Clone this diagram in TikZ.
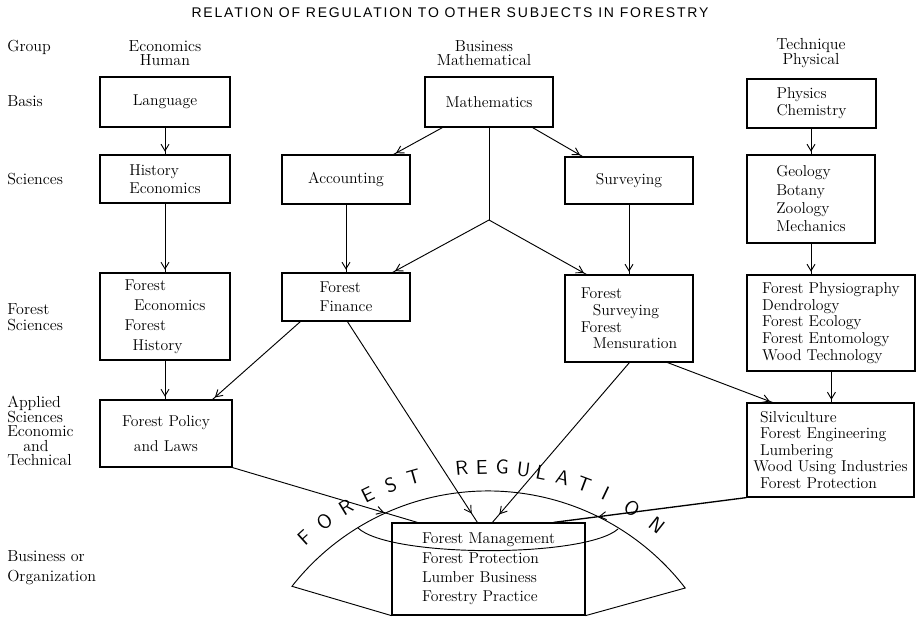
\documentclass[tikz,border=0pt]{standalone}
\usepackage{fontspec}
\newfontfamily\titlefont[LetterSpace=13]{Liberation Sans}
\usetikzlibrary{arrows.meta,decorations.markings,calc}
\begin{document}
\begin{tikzpicture}[x=0.75pt,y=-0.75pt,
  lbl/.style={font=\fontsize{12}{#1}\selectfont, align=left, anchor=west, inner sep=0pt},
  lbl/.default=13.5,
  hdr/.style={font=\fontsize{12}{10.5}\selectfont, align=center, inner sep=0pt},
  box/.style={draw, line width=0.9pt, inner sep=0pt, align=left},
  bs/.style={font=\fontsize{11.8}{#1}\selectfont},
  con/.style={line width=0.7pt},
  arr/.style={con, postaction={decorate}, decoration={markings, mark=at position #1 with {\arrow{Straight Barb[length=5pt,width=6pt,line width=0.7pt]}}}},
  arr/.default=-2pt,
  ltr/.style={font=\sffamily\fontsize{15}{15}\selectfont, inner sep=0pt}
]
\useasboundingbox (0,0) rectangle (920,617);

% title
\node[font=\titlefont\fontsize{10.5}{12}\selectfont, inner sep=0pt] (title) at (450,13) {RELATION OF REGULATION TO OTHER SUBJECTS IN FORESTRY};

% row labels
\node[lbl] (rg) at (7,47) {Group};
\node[lbl] (rb) at (7,101) {Basis};
\node[lbl] (rs) at (7,179) {Sciences};
\node[lbl=12] (rf) at (7,317) {Forest\\Sciences};
\node[lbl=10.9] (ra) at (7,431) {Applied\\Sciences\\Economic\\\hspace*{12pt}and\\Technical};
\node[lbl=15] (rbo) at (7,568) {Business or\\Organization};

% column headers
\node[hdr] (h1) at (165,53) {Economics\\Human};
\node[hdr] (h2) at (484,53) {Business\\Mathematical};
\node[hdr] (h3) at (811,53) {Technique\\Physical};

% boxes
\node[box, bs=13.5, minimum width=97.5pt, minimum height=37.5pt] (lang) at (165,102) {Language};
\node[box, bs=13.5, minimum width=96pt, minimum height=37.5pt] (math) at (489,102) {Mathematics};
\node[box, bs=12.75, minimum width=96.75pt, minimum height=36.75pt] (phys) at (811.5,103.5) {Physics\\Chemistry};
\node[box, bs=13.5, minimum width=97.5pt, minimum height=36pt] (hist) at (165,179) {History\\Economics};
\node[box, bs=13.5, minimum width=96pt, minimum height=36.75pt] (acc) at (346,179.5) {Accounting};
\node[box, bs=13.5, minimum width=96pt, minimum height=35.25pt] (surv) at (629,180.5) {Surveying};
\node[box, bs=13.75, minimum width=96pt, minimum height=66pt] (geo) at (811,199) {Geology\\Botany\\Zoology\\Mechanics};
\node[box, bs=15, minimum width=97.5pt, minimum height=65.25pt] (fecon) at (165,316.5) {Forest\\\hspace*{7pt}Economics\\Forest\\\hspace*{6pt}History};
\node[box, bs=14.25, minimum width=96pt, minimum height=36pt] (ffin) at (346,297) {Forest\\Finance};
\node[box, bs=12.5, minimum width=96pt, minimum height=65.25pt] (fsurv) at (629,318.5) {Forest\\\hspace*{9pt}Surveying\\Forest\\\hspace*{9pt}Mensuration};
\node[box, bs=12.6, minimum width=126pt, minimum height=72pt] (fphys) at (831,323) {Forest Physiography\\Dendrology\\Forest Ecology\\Forest Entomology\\Wood Technology};
\node[box, bs=18.75, align=center, minimum width=99pt, minimum height=50.25pt] (policy) at (166,433.5) {Forest Policy\\and Laws};
\node[box, bs=12.4, minimum width=125.25pt, minimum height=70.5pt] (silv) at (830.5,450) {\hspace*{5pt}Silviculture\\\hspace*{5pt}Forest Engineering\\\hspace*{5pt}Lumbering\\Wood Using Industries\\\hspace*{5pt}Forest Protection};
\node[box, bs=14.5, minimum width=144.75pt, minimum height=69pt] (mgmt) at (488.5,569) {Forest Management\\Forest Protection\\Lumber Business\\Forestry Practice};

% fan shape
\coordinate (C) at (488,740);
\coordinate (fl) at (292,586.3);
\draw[con] (mgmt.south west) -- (fl) arc[start angle=141.9, end angle=37.6, radius=186.75pt] -- (mgmt.south east);
\draw[con] (358,528) .. controls (390,558) and (585,558) .. (618,529);

% lettering
\foreach \ch/\ang [count=\i] in {F/132.2, O/126.8, R/121.4, E/116.1, S/110.9, T/105.8, R/95.5, E/91.3, G/87.0, U/82.5, L/78.7, A/74.1, T/69.4, I/64.5, O/58.2, N/51.8}
  \node[ltr, rotate=\ang-90] (lt\i) at ($(C)+(\ang:204.75pt)$) {\ch};

% connectors
\draw[arr] (lang.south) -- (hist.north);
\draw[arr] (hist.south) -- (fecon.north);
\draw[arr] (fecon.south) -- (fecon.south |- policy.north);
\draw[arr] ($(math.south west)+(18,0)$) -- ($(acc.north east)+(-17,0)$);
\draw[arr] ($(math.south east)+(-21,0)$) -- ($(surv.north west)+(18,0)$);
\coordinate (br) at (489,220);
\draw[con] (math.south) -- (br);
\draw[arr] (br) -- ($(ffin.north east)+(-18,0)$);
\draw[arr] (br) -- ($(fsurv.north west)+(22,0)$);
\draw[arr] (acc.south) -- (ffin.north);
\draw[arr] (surv.south) -- (fsurv.north);
\draw[arr] (geo.north |- phys.south) -- (geo.north);
\draw[arr] (geo.south) -- (geo.south |- fphys.north);
\draw[arr] ($(fphys.south west)+(85,0)$) -- ($(silv.north west)+(85,0)$);
\draw[arr] ($(ffin.south west)+(19,0)$) -- ($(policy.north east)+(-20,0)$);
\draw[arr=-8pt] ($(ffin.south west)+(66,0)$) -- ($(mgmt.north west)+(86,0)$);
\draw[arr=-8pt] ($(fsurv.south west)+(65,0)$) -- ($(mgmt.north west)+(101,0)$);
\draw[arr] ($(fsurv.south east)+(-26,0)$) -- ($(silv.north west)+(26,0)$);
\draw[arr=-26pt] (policy.south east) -- ($(mgmt.north west)+(26,0)$);
\draw[arr=-34pt, line width=1pt] (silv.south west) -- ($(mgmt.north east)+(-32,0)$);
\end{tikzpicture}
\end{document}
